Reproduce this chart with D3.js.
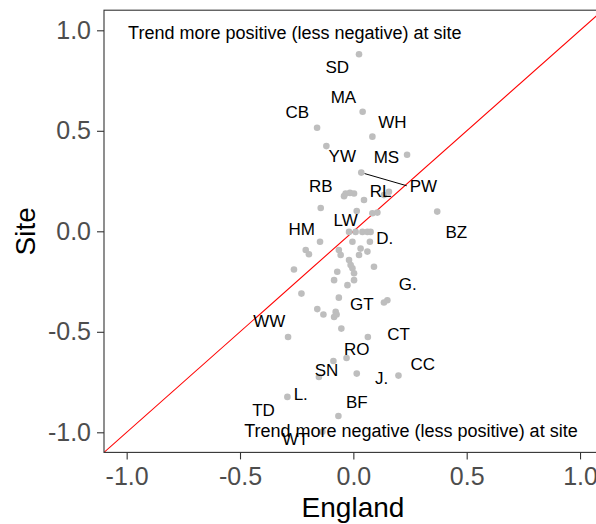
<!DOCTYPE html>
<html><head><meta charset="utf-8">
<script src="https://cdn.jsdelivr.net/npm/d3@7"></script>
<style>body{margin:0;background:#fff}svg{display:block}text{font-family:"Liberation Sans",Arial,sans-serif}</style>
</head><body>
<svg id="c" width="596" height="524"></svg>
<script>
// England trend (x) vs site trend (y) for each site
const pointX = [0.025,0.041,-0.160,0.084,-0.119,0.237,0.035,-0.034,-0.015,0.003,-0.041,0.047,0.157,0.135,-0.144,0.084,0.106,0.015,0.370,
  -0.019,0.010,0.040,0.062,0.076,0.073,-0.147,-0.004,-0.210,-0.196,-0.064,-0.056,0.032,0.025,0.062,-0.262,-0.019,-0.012,-0.004,0.003,0.091,
  -0.071,-0.085,0.003,-0.026,-0.229,-0.064,0.150,0.135,-0.159,-0.132,-0.078,-0.085,-0.074,-0.053,-0.288,0.064,-0.030,-0.088,-0.152,0.015,
  0.199,-0.291,-0.066,-0.137];
const pointY = [0.881,0.595,0.515,0.471,0.424,0.381,0.292,0.188,0.191,0.188,0.175,0.156,0.197,0.180,0.116,0.090,0.093,0.101,0.098,
  -0.003,-0.003,-0.003,-0.003,-0.003,-0.052,-0.052,-0.052,-0.093,-0.114,-0.093,-0.118,-0.086,-0.118,-0.101,-0.190,-0.143,-0.168,-0.184,-0.209,-0.176,
  -0.201,-0.243,-0.243,-0.268,-0.310,-0.330,-0.343,-0.354,-0.387,-0.414,-0.401,-0.426,-0.414,-0.484,-0.526,-0.526,-0.630,-0.645,-0.725,-0.708,
  -0.718,-0.824,-0.919,-0.997];
// site labels (repelled positions)
const labelText = ["SD","MA","CB","WH","YW","MS","PW","RB","RL","LW","HM","D.","BZ","G.","GT","WW","CT","RO","SN","CC","J.","L.","TD","BF","WT"];
const labelX = [-0.071,-0.044,-0.247,0.172,-0.049,0.146,0.309,-0.144,0.120,-0.034,-0.228,0.138,0.454,0.240,0.037,-0.371,0.200,0.015,-0.118,0.306,0.125,-0.232,-0.396,0.015,-0.255];
const labelY = [0.820,0.668,0.593,0.544,0.375,0.370,0.225,0.225,0.201,0.056,0.012,-0.035,-0.004,-0.260,-0.363,-0.446,-0.512,-0.585,-0.690,-0.661,-0.731,-0.807,-0.889,-0.849,-1.031];
// leader segment: label PW -> its point
const segmentFrom = [{label:"PW", px:0.035, py:0.292}];
const ticks = [-1.0,-0.5,0.0,0.5,1.0];
const annotations = [
  {text:"Trend more positive (less negative) at site", x:-0.258, y:0.99},
  {text:"Trend more negative (less positive) at site", x:0.254, y:-0.99}
];

const svg = d3.select("#c");
const x = d3.scaleLinear().domain([-1.1,1.1]).range([104,602.7]);
const y = d3.scaleLinear().domain([-1.1,1.1]).range([452.4,10.2]);

svg.append("defs").append("clipPath").attr("id","clip")
  .append("rect").attr("x",104).attr("y",10.2).attr("width",498.7).attr("height",442.2);

const panel = svg.append("g").attr("clip-path","url(#clip)");
panel.append("line")
  .attr("x1",x(-1.1)).attr("y1",y(-1.1)).attr("x2",x(1.1)).attr("y2",y(1.1))
  .attr("stroke","#FF0000").attr("stroke-width",1.1);

const pts = pointX.map((v,i)=>({x:v,y:pointY[i]}));
panel.selectAll("circle").data(pts).enter().append("circle")
  .attr("cx",d=>x(d.x)).attr("cy",d=>y(d.y)).attr("r",3.3).attr("fill","#BEBEBE");

const labs = labelText.map((t,i)=>({t,x:labelX[i],y:labelY[i]}));
const lt = panel.selectAll("text.lab").data(labs).enter().append("text").attr("class","lab")
  .attr("x",d=>x(d.x)).attr("y",d=>y(d.y)).attr("dy","0.36em")
  .attr("text-anchor","middle").attr("font-size",17).attr("fill","#000").text(d=>d.t);

segmentFrom.forEach(s=>{
  const node = lt.filter(d=>d.t===s.label).node();
  const bb = node.getBBox();
  const x0 = x(s.px), y0 = y(s.py);
  const lx = bb.x - 3, ly = bb.y + bb.height*0.45;
  const dx = lx-x0, dy = ly-y0, L = Math.hypot(dx,dy);
  panel.append("line").attr("x1",x0+dx/L*3.5).attr("y1",y0+dy/L*3.5).attr("x2",lx).attr("y2",ly)
    .attr("stroke","#000").attr("stroke-width",1);
});

panel.selectAll("text.ann").data(annotations).enter().append("text").attr("class","ann")
  .attr("x",d=>x(d.x)).attr("y",d=>y(d.y)).attr("dy","0.36em")
  .attr("text-anchor","middle").attr("font-size",18).attr("fill","#000").text(d=>d.text);

// panel border
svg.append("rect").attr("x",104).attr("y",10.2).attr("width",498.7).attr("height",442.2)
  .attr("fill","none").attr("stroke","#333333").attr("stroke-width",1.1);

const fmt = d => d3.format(".1f")(d).replace("\u2212","-");
const gx = svg.append("g").attr("transform","translate(0,452.4)")
  .call(d3.axisBottom(x).tickValues(ticks).tickFormat(fmt).tickSize(7).tickPadding(8));
const gy = svg.append("g").attr("transform","translate(104,0)")
  .call(d3.axisLeft(y).tickValues(ticks).tickFormat(fmt).tickSize(7).tickPadding(6));
[gx,gy].forEach(g=>{
  g.select(".domain").remove();
  g.selectAll(".tick line").attr("stroke","#333333").attr("stroke-width",1.1);
  g.selectAll(".tick text").attr("fill","#4D4D4D").attr("font-size",25)
   .attr("font-family","'Liberation Sans',Arial,sans-serif");
});

svg.append("text").attr("x",353).attr("y",517).attr("text-anchor","middle")
  .attr("font-size",28).attr("fill","#000").text("England");
svg.append("text").attr("transform","translate(35,231.3) rotate(-90)").attr("text-anchor","middle")
  .attr("font-size",28).attr("fill","#000").text("Site");
</script>
</body></html>
